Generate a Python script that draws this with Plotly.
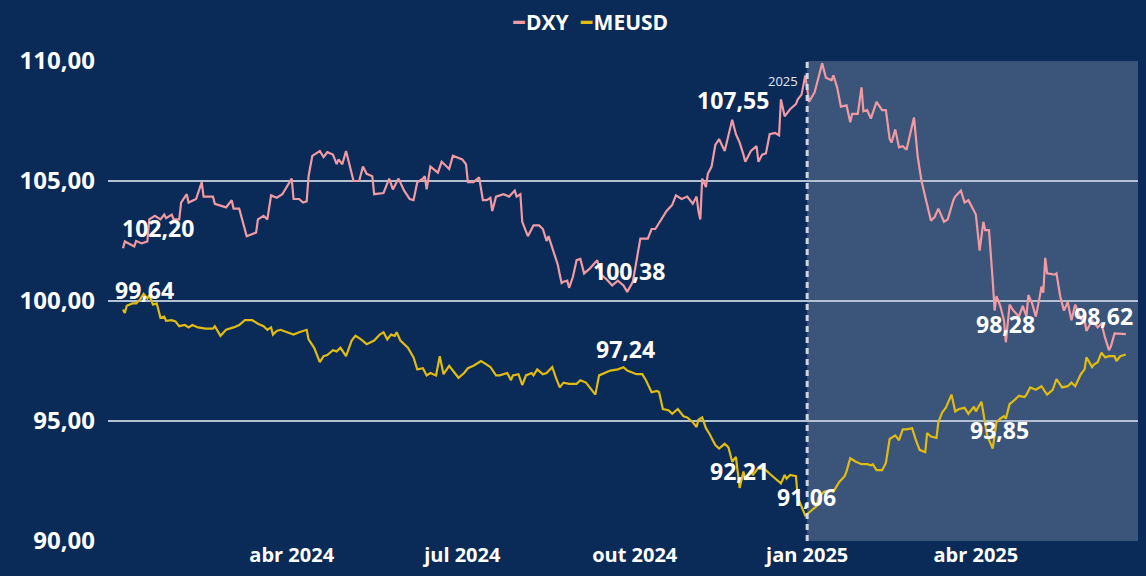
import plotly.graph_objects as go

# ---------------- data ----------------
dxy_dates = [
    "2024-01-02", "2024-01-03", "2024-01-08", "2024-01-09", "2024-01-12", "2024-01-15", "2024-01-16",
    "2024-01-19", "2024-01-22", "2024-01-24", "2024-01-25", "2024-01-28", "2024-01-29", "2024-02-01",
    "2024-02-02", "2024-02-05", "2024-02-06", "2024-02-10", "2024-02-13", "2024-02-14", "2024-02-19",
    "2024-02-20", "2024-02-26", "2024-02-29", "2024-03-01", "2024-03-04", "2024-03-08", "2024-03-11",
    "2024-03-13", "2024-03-14", "2024-03-17", "2024-03-19", "2024-03-21", "2024-03-24", "2024-03-27",
    "2024-04-01", "2024-04-02", "2024-04-05", "2024-04-07", "2024-04-09", "2024-04-10", "2024-04-12",
    "2024-04-16", "2024-04-18", "2024-04-20", "2024-04-23", "2024-04-25", "2024-04-26", "2024-04-28",
    "2024-04-30", "2024-05-03", "2024-05-04", "2024-05-07", "2024-05-09", "2024-05-11", "2024-05-14",
    "2024-05-15", "2024-05-20", "2024-05-23", "2024-05-25", "2024-05-28", "2024-05-31", "2024-06-03",
    "2024-06-05", "2024-06-07", "2024-06-10", "2024-06-11", "2024-06-12", "2024-06-14", "2024-06-18",
    "2024-06-20", "2024-06-24", "2024-06-26", "2024-07-01", "2024-07-03", "2024-07-04", "2024-07-07",
    "2024-07-10", "2024-07-12", "2024-07-14", "2024-07-16", "2024-07-17", "2024-07-19", "2024-07-23",
    "2024-07-26", "2024-07-29", "2024-07-30", "2024-08-01", "2024-08-02", "2024-08-05", "2024-08-08",
    "2024-08-11", "2024-08-13", "2024-08-15", "2024-08-16", "2024-08-18", "2024-08-21", "2024-08-22",
    "2024-08-23", "2024-08-24", "2024-08-26", "2024-08-27", "2024-08-29", "2024-08-31", "2024-09-02",
    "2024-09-04", "2024-09-07", "2024-09-11", "2024-09-13", "2024-09-16", "2024-09-19", "2024-09-22",
    "2024-09-25", "2024-09-27", "2024-09-30", "2024-10-02", "2024-10-04", "2024-10-08", "2024-10-10",
    "2024-10-12", "2024-10-15", "2024-10-18", "2024-10-21", "2024-10-23", "2024-10-26", "2024-10-29",
    "2024-11-01", "2024-11-03", "2024-11-04", "2024-11-05", "2024-11-06", "2024-11-08", "2024-11-09",
    "2024-11-11", "2024-11-13", "2024-11-15", "2024-11-18", "2024-11-22", "2024-11-24", "2024-11-26",
    "2024-11-28", "2024-11-29", "2024-12-02", "2024-12-05", "2024-12-06", "2024-12-08", "2024-12-10",
    "2024-12-12", "2024-12-15", "2024-12-17", "2024-12-18", "2024-12-20", "2024-12-23", "2024-12-26",
    "2024-12-27", "2024-12-29", "2024-12-31", "2025-01-02", "2025-01-05", "2025-01-07", "2025-01-09",
    "2025-01-11", "2025-01-14", "2025-01-15", "2025-01-17", "2025-01-19", "2025-01-22", "2025-01-24",
    "2025-01-25", "2025-01-28", "2025-01-30", "2025-01-31", "2025-02-02", "2025-02-04", "2025-02-07",
    "2025-02-10", "2025-02-12", "2025-02-14", "2025-02-15", "2025-02-17", "2025-02-19", "2025-02-21",
    "2025-02-23", "2025-02-27", "2025-03-01", "2025-03-03", "2025-03-05", "2025-03-06", "2025-03-08",
    "2025-03-10", "2025-03-12", "2025-03-15", "2025-03-17", "2025-03-20", "2025-03-21", "2025-03-24",
    "2025-03-26", "2025-03-28", "2025-03-30", "2025-04-01", "2025-04-03", "2025-04-05", "2025-04-06",
    "2025-04-08", "2025-04-10", "2025-04-11", "2025-04-12", "2025-04-14", "2025-04-16", "2025-04-17",
    "2025-04-19", "2025-04-21", "2025-04-24", "2025-04-26", "2025-04-28", "2025-04-29", "2025-05-01",
    "2025-05-03", "2025-05-05", "2025-05-06", "2025-05-07", "2025-05-08", "2025-05-09", "2025-05-13",
    "2025-05-14", "2025-05-16", "2025-05-18", "2025-05-20", "2025-05-22", "2025-05-24", "2025-05-27",
    "2025-05-29", "2025-05-30", "2025-06-02", "2025-06-05", "2025-06-07", "2025-06-09", "2025-06-11",
    "2025-06-12", "2025-06-14", "2025-06-20",
]
dxy_values = [
    102.20, 102.48, 102.27, 102.50, 102.40, 102.48, 103.40,
    103.55, 103.40, 103.60, 103.45, 103.60, 103.40, 103.40,
    104.10, 104.45, 104.10, 104.25, 104.95, 104.35, 104.35,
    104.05, 103.90, 104.20, 103.85, 103.85, 102.70, 102.80,
    102.85, 103.40, 103.55, 103.40, 104.40, 104.30, 104.45,
    105.10, 104.25, 104.25, 104.10, 104.15, 105.20, 106.05,
    106.25, 106.00, 106.20, 106.10, 105.70, 105.90, 105.70,
    106.25, 105.35, 105.00, 105.00, 105.60, 105.30, 105.20,
    104.45, 104.50, 105.10, 104.65, 105.10, 104.60, 104.25,
    104.20, 104.95, 105.10, 105.20, 104.65, 105.60, 105.35,
    105.80, 105.50, 106.05, 105.90, 105.70, 104.95, 104.95,
    105.15, 104.20, 104.20, 104.30, 103.75, 104.35, 104.45,
    104.35, 104.60, 104.35, 104.45, 103.30, 102.70, 103.15,
    103.15, 103.00, 102.50, 102.70, 102.20, 101.50, 101.10,
    100.75, 100.80, 100.85, 100.55, 101.00, 101.70, 101.75,
    101.15, 101.35, 101.70, 101.10, 100.90, 100.65, 100.85,
    100.65, 100.38, 100.80, 101.70, 102.60, 102.60, 103.00,
    103.00, 103.40, 103.75, 104.00, 104.40, 104.25, 104.35,
    104.05, 104.35, 103.75, 103.40, 105.10, 104.75, 105.30,
    105.60, 106.50, 106.75, 106.25, 107.55, 106.95, 106.60,
    106.10, 105.80, 106.25, 106.45, 105.80, 106.10, 106.15,
    106.95, 107.00, 106.90, 108.40, 107.70, 108.00, 108.20,
    108.40, 108.60, 109.40, 108.30, 108.70, 109.30, 109.90,
    109.30, 109.20, 109.40, 108.90, 108.10, 108.15, 107.45,
    107.80, 107.80, 108.90, 107.90, 107.95, 107.60, 108.30,
    107.95, 107.95, 106.75, 106.60, 107.15, 106.40, 106.45,
    106.30, 107.65, 106.00, 105.00, 104.35, 103.90, 103.35,
    103.50, 103.85, 103.30, 103.40, 104.20, 104.35, 104.60,
    104.10, 104.20, 103.90, 103.60, 102.10, 103.30, 102.95,
    102.95, 100.85, 99.60, 100.20, 99.80, 99.20, 98.28,
    99.85, 99.60, 99.35, 99.80, 99.35, 100.25, 99.90,
    99.35, 100.15, 100.60, 100.35, 101.80, 101.15, 101.10,
    101.15, 100.20, 99.60, 99.95, 99.20, 99.85, 99.25,
    99.20, 98.75, 99.20, 98.90, 99.05, 98.45, 97.95,
    98.10, 98.65, 98.62,
]

meusd_dates = [
    "2024-01-02", "2024-01-03", "2024-01-04", "2024-01-07", "2024-01-09", "2024-01-11", "2024-01-13",
    "2024-01-15", "2024-01-16", "2024-01-18", "2024-01-20", "2024-01-22", "2024-01-24", "2024-01-25",
    "2024-01-28", "2024-01-30", "2024-02-01", "2024-02-04", "2024-02-06", "2024-02-08", "2024-02-11",
    "2024-02-15", "2024-02-19", "2024-02-20", "2024-02-23", "2024-02-26", "2024-03-01", "2024-03-04",
    "2024-03-07", "2024-03-11", "2024-03-14", "2024-03-17", "2024-03-19", "2024-03-21", "2024-03-22",
    "2024-03-24", "2024-03-26", "2024-03-29", "2024-04-02", "2024-04-05", "2024-04-09", "2024-04-10",
    "2024-04-13", "2024-04-16", "2024-04-18", "2024-04-20", "2024-04-23", "2024-04-25", "2024-04-27",
    "2024-04-30", "2024-05-03", "2024-05-05", "2024-05-08", "2024-05-11", "2024-05-15", "2024-05-18",
    "2024-05-20", "2024-05-22", "2024-05-24", "2024-05-26", "2024-05-27", "2024-05-29", "2024-06-02",
    "2024-06-05", "2024-06-07", "2024-06-10", "2024-06-12", "2024-06-14", "2024-06-17", "2024-06-19",
    "2024-06-21", "2024-06-24", "2024-06-26", "2024-06-29", "2024-07-02", "2024-07-04", "2024-07-07",
    "2024-07-11", "2024-07-13", "2024-07-16", "2024-07-19", "2024-07-21", "2024-07-25", "2024-07-27",
    "2024-07-28", "2024-07-31", "2024-08-02", "2024-08-04", "2024-08-07", "2024-08-08", "2024-08-10",
    "2024-08-13", "2024-08-15", "2024-08-18", "2024-08-20", "2024-08-22", "2024-08-24", "2024-08-27",
    "2024-08-31", "2024-09-02", "2024-09-05", "2024-09-08", "2024-09-10", "2024-09-12", "2024-09-15",
    "2024-09-18", "2024-09-22", "2024-09-25", "2024-09-27", "2024-10-02", "2024-10-05", "2024-10-07",
    "2024-10-10", "2024-10-13", "2024-10-14", "2024-10-16", "2024-10-19", "2024-10-21", "2024-10-24",
    "2024-10-27", "2024-10-29", "2024-11-01", "2024-11-03", "2024-11-04", "2024-11-06", "2024-11-08",
    "2024-11-10", "2024-11-13", "2024-11-15", "2024-11-18", "2024-11-20", "2024-11-22", "2024-11-24",
    "2024-11-26", "2024-11-28", "2024-11-29", "2024-12-02", "2024-12-03", "2024-12-06", "2024-12-10",
    "2024-12-12", "2024-12-16", "2024-12-18", "2024-12-20", "2024-12-21", "2024-12-23", "2024-12-26",
    "2024-12-27", "2024-12-29", "2024-12-31", "2025-01-03", "2025-01-06", "2025-01-07", "2025-01-10",
    "2025-01-13", "2025-01-15", "2025-01-18", "2025-01-21", "2025-01-22", "2025-01-24", "2025-01-27",
    "2025-01-30", "2025-02-02", "2025-02-04", "2025-02-05", "2025-02-07", "2025-02-10", "2025-02-12",
    "2025-02-14", "2025-02-17", "2025-02-19", "2025-02-21", "2025-02-23", "2025-02-26", "2025-02-28",
    "2025-03-02", "2025-03-05", "2025-03-06", "2025-03-08", "2025-03-11", "2025-03-12", "2025-03-14",
    "2025-03-16", "2025-03-19", "2025-03-21", "2025-03-23", "2025-03-26", "2025-03-28", "2025-03-31",
    "2025-04-01", "2025-04-04", "2025-04-06", "2025-04-07", "2025-04-10", "2025-04-12", "2025-04-14",
    "2025-04-16", "2025-04-17", "2025-04-19", "2025-04-22", "2025-04-24", "2025-04-27", "2025-04-28",
    "2025-04-30", "2025-05-03", "2025-05-06", "2025-05-09", "2025-05-12", "2025-05-14", "2025-05-17",
    "2025-05-20", "2025-05-22", "2025-05-24", "2025-05-27", "2025-05-29", "2025-05-30", "2025-06-02",
    "2025-06-03", "2025-06-05", "2025-06-07", "2025-06-09", "2025-06-11", "2025-06-14", "2025-06-15",
    "2025-06-17", "2025-06-20",
]
meusd_values = [
    99.64, 99.50, 99.80, 99.90, 99.90, 100.05, 100.30,
    100.10, 100.25, 99.85, 99.90, 99.30, 99.35, 99.17,
    99.20, 99.15, 98.95, 99.00, 98.90, 99.00, 98.90,
    98.85, 98.85, 98.95, 98.55, 98.80, 98.90, 99.00,
    99.20, 99.20, 99.05, 98.95, 98.80, 98.90, 98.60,
    98.75, 98.80, 98.70, 98.60, 98.70, 98.80, 98.40,
    98.05, 97.45, 97.70, 97.75, 97.95, 97.90, 98.05,
    97.70, 98.35, 98.55, 98.40, 98.20, 98.35, 98.60,
    98.70, 98.40, 98.60, 98.55, 98.70, 98.35, 98.05,
    97.65, 97.15, 97.20, 96.90, 97.00, 96.90, 97.70,
    96.95, 97.30, 97.10, 96.80, 97.00, 97.20, 97.30,
    97.50, 97.40, 97.25, 96.90, 96.90, 97.00, 96.70,
    96.90, 96.95, 96.50, 96.90, 97.00, 96.90, 97.15,
    96.95, 97.00, 97.25, 96.80, 96.40, 96.60, 96.55,
    96.55, 96.70, 96.60, 96.30, 96.10, 96.90, 97.00,
    97.10, 97.15, 97.24, 97.10, 96.95, 96.95, 96.70,
    96.20, 96.25, 96.20, 95.50, 95.45, 95.30, 95.50,
    95.20, 95.15, 94.95, 94.75, 95.05, 95.15, 94.70,
    94.45, 94.00, 93.85, 94.05, 93.90, 93.30, 93.50,
    92.21, 92.90, 92.55, 92.95, 92.75, 93.05, 92.95,
    92.80, 92.55, 92.40, 92.75, 92.60, 92.75, 92.70,
    91.80, 91.45, 91.06, 91.25, 91.45, 91.80, 92.05,
    92.10, 92.05, 92.45, 92.70, 92.90, 93.45, 93.30,
    93.20, 93.20, 93.15, 93.20, 92.95, 92.95, 93.25,
    94.25, 94.40, 94.20, 94.65, 94.65, 94.70, 94.20,
    93.80, 93.70, 94.50, 94.35, 94.30, 94.95, 95.35,
    95.55, 96.10, 95.40, 95.50, 95.55, 95.30, 95.60,
    95.40, 95.80, 94.75, 94.40, 93.85, 94.95, 95.10,
    95.20, 95.10, 95.70, 95.90, 96.05, 96.00, 96.10,
    96.40, 96.30, 96.45, 96.10, 96.30, 96.75, 96.40,
    96.45, 96.60, 96.45, 96.95, 97.15, 97.65, 97.25,
    97.35, 97.45, 97.85, 97.65, 97.70, 97.70, 97.50,
    97.70, 97.77,
]

series_names = ["DXY", "MEUSD"]

tick_dates = ["2024-04-01", "2024-07-01", "2024-10-01", "2025-01-01", "2025-04-01"]
tick_labels = ["abr 2024", "jul 2024", "out 2024", "jan 2025", "abr 2025"]

highlight_start = "2025-01-01"
highlight_label = "2025"

# labelled points: (series, date)
label_points = [
    ("DXY", "2024-01-02"), ("MEUSD", "2024-01-02"),
    ("DXY", "2024-09-27"), ("MEUSD", "2024-09-25"),
    ("DXY", "2024-11-22"), ("MEUSD", "2024-11-26"),
    ("MEUSD", "2024-12-31"), ("DXY", "2025-04-17"),
    ("MEUSD", "2025-04-10"), ("DXY", "2025-06-20"),
]

# ---------------- style ----------------
BG = "#0a2a58"
COLORS = {"DXY": "#f09aa3", "MEUSD": "#e0bc12"}
FONT = "Open Sans, Segoe UI, sans-serif"
X_RANGE = ["2023-12-25", "2025-06-26 12:00"]
label_shift = [(35, 20), (21, 20), (2, 21), (2, 18), (1, 20),
               (0, 17), (1, 19), (0, 18), (7, 19), (-22, 18)]

data = {
    "DXY": (dxy_dates, dxy_values),
    "MEUSD": (meusd_dates, meusd_values),
}

fig = go.Figure()
for name in series_names:
    d, v = data[name]
    fig.add_trace(go.Scatter(
        x=d, y=v, mode="lines", name=name,
        line=dict(color=COLORS[name], width=2.2),
        showlegend=False,
    ))

# highlighted 2025 region
fig.add_shape(type="rect", xref="x", yref="y",
              x0=highlight_start, x1=X_RANGE[1], y0=90, y1=110,
              fillcolor="rgba(255,255,255,0.2)", line=dict(width=0), layer="below")
fig.add_shape(type="line", xref="x", yref="paper",
              x0=highlight_start, x1=highlight_start, y0=0, y1=1,
              line=dict(color="rgba(215,222,235,0.95)", width=3, dash="6px,5px"),
              layer="above")
fig.add_annotation(x=highlight_start, y=110, xref="x", yref="y",
                   text=highlight_label, showarrow=False,
                   xanchor="right", yanchor="top", xshift=-7, yshift=-9,
                   font=dict(family=FONT, size=13, color="#e4e8f0"))

# data labels
for (name, dt), (dx, dy) in zip(label_points, label_shift):
    d, v = data[name]
    val = v[d.index(dt)]
    fig.add_annotation(x=dt, y=val, xref="x", yref="y",
                       text="<b>" + f"{val:.2f}".replace(".", ",") + "</b>",
                       showarrow=False, xshift=dx, yshift=dy,
                       font=dict(family=FONT, size=23, color="white"))

# legend as text
legend_text = "  ".join(
    f"<b><span style='color:{COLORS[n]};font-size:28px'>–</span>{n}</b>" for n in series_names)
fig.add_annotation(x=0.5, y=1, xref="paper", yref="paper", yanchor="middle",
                   xshift=-33, yshift=42, text=legend_text, showarrow=False,
                   font=dict(family=FONT, size=21, color="white"))

fig.update_layout(
    width=1146, height=576,
    paper_bgcolor=BG, plot_bgcolor=BG,
    margin=dict(l=108, r=8, t=61, b=31),
    separators=",.",
    showlegend=False,
    xaxis=dict(
        range=X_RANGE, tickvals=tick_dates, ticktext=tick_labels,
        showgrid=False, zeroline=False, showline=False, ticks="",
        tickfont=dict(family=FONT, size=20, color="white", weight="bold"),
    ),
    yaxis=dict(
        range=[90, 110], dtick=5, tickformat=".2f",
        showgrid=True, gridcolor="#b4c0d4", gridwidth=1.6,
        zeroline=False, showline=False, ticks="",
        ticklabelstandoff=12,
        tickfont=dict(family=FONT, size=24, color="white", weight="bold"),
    ),
)

fig.write_html(
    "out.html",
    config={"displayModeBar": False},
    post_script="document.body.style.margin='0';document.body.style.overflow='hidden';document.body.style.background='" + BG + "';",
)
